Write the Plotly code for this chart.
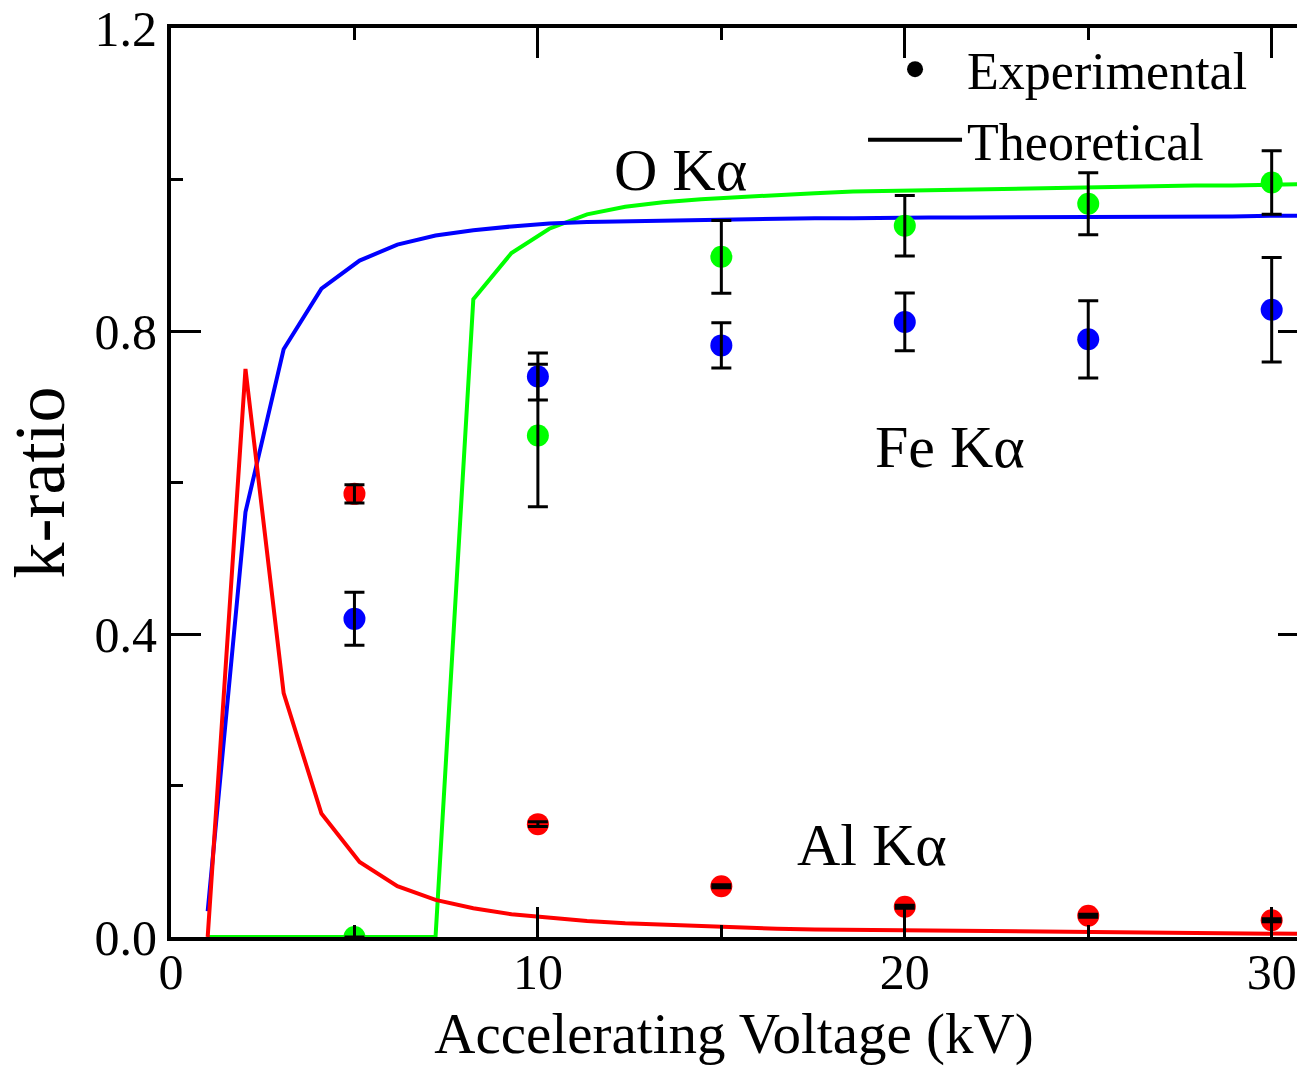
import plotly.graph_objects as go

# ---------------- data ----------------
kv_exp = [5, 10, 15, 20, 25, 30]

al_exp = [0.585, 0.149, 0.067, 0.040, 0.028, 0.022]
al_err = [0.012, 0.003, 0.002, 0.002, 0.002, 0.002]

fe_exp = [0.420, 0.740, 0.781, 0.812, 0.789, 0.828]
fe_err = [0.035, 0.031, 0.030, 0.038, 0.051, 0.069]

o_exp = [0.0, 0.662, 0.898, 0.939, 0.968, 0.996]
o_err = [0.0, 0.094, 0.048, 0.040, 0.041, 0.042]

kv_theory = [1.00, 2.03, 3.07, 4.10, 5.14, 6.17, 7.21, 8.24, 9.28, 10.31,
             11.34, 12.38, 13.41, 14.45, 15.48, 16.52, 17.55, 18.59, 19.62, 20.66,
             21.69, 22.72, 23.76, 24.79, 25.83, 26.86, 27.90, 28.93, 29.97, 31.00]

fe_theory = [0.034, 0.561, 0.776, 0.856, 0.893, 0.914, 0.926, 0.933, 0.938, 0.942,
             0.944, 0.945, 0.946, 0.947, 0.948, 0.948, 0.949, 0.949, 0.950, 0.950,
             0.950, 0.950, 0.951, 0.951, 0.951, 0.951, 0.951, 0.951, 0.952, 0.952]

al_theory = [0.0, 0.750, 0.322, 0.163, 0.099, 0.067, 0.049, 0.038, 0.030, 0.025,
             0.021, 0.018, 0.016, 0.014, 0.013, 0.011, 0.010, 0.0095, 0.009, 0.0085,
             0.008, 0.0075, 0.007, 0.0065, 0.006, 0.0055, 0.005, 0.005, 0.0045, 0.004]

o_theory = [0.0, 0.0, 0.0, 0.0, 0.0, 0.0, 0.0, 0.842, 0.903, 0.935,
            0.954, 0.964, 0.970, 0.974, 0.977, 0.980, 0.982, 0.984, 0.985, 0.986,
            0.987, 0.988, 0.989, 0.990, 0.990, 0.991, 0.992, 0.992, 0.993, 0.994]

x_ticks = [0, 10, 20, 30]
y_ticks = [0.0, 0.4, 0.8, 1.2]

labels = [("O Kα", 13.9, 1.012), ("Fe Kα", 21.23, 0.647), ("Al Kα", 19.1, 0.122)]

# ---------------- style ----------------
RED, BLUE, GREEN = "#ff0000", "#0000ff", "#00ff00"
FONT = "Liberation Serif"
LW = 4

fig = go.Figure()

# theoretical curves
for yv, c in [(o_theory, GREEN), (fe_theory, BLUE), (al_theory, RED)]:
    fig.add_trace(go.Scatter(x=kv_theory, y=yv, mode="lines",
                             line=dict(color=c, width=LW), showlegend=False,
                             hoverinfo="skip"))

# experimental markers
for yv, c in [(al_exp, RED), (fe_exp, BLUE), (o_exp, GREEN)]:
    fig.add_trace(go.Scatter(x=kv_exp, y=yv, mode="markers",
                             marker=dict(color=c, size=22), showlegend=False))

# error bars drawn on top of markers
for yv, ev in [(al_exp, al_err), (fe_exp, fe_err), (o_exp, o_err)]:
    fig.add_trace(go.Scatter(x=kv_exp, y=yv, mode="markers",
                             marker=dict(color="rgba(0,0,0,0)", size=1),
                             error_y=dict(type="data", array=ev, visible=True,
                                          color="black", thickness=3, width=10),
                             showlegend=False, hoverinfo="skip"))

# legend entries
fig.add_trace(go.Scatter(x=[None], y=[None], mode="markers", name="Experimental",
                         marker=dict(color="black", size=22)))
fig.add_trace(go.Scatter(x=[None], y=[None], mode="lines", name="Theoretical",
                         line=dict(color="black", width=LW)))

# dummy trace on right-side tick axis
fig.add_trace(go.Scatter(x=[None], y=[None], yaxis="y2", showlegend=False,
                         hoverinfo="skip"))

for txt, xx, yy in labels:
    fig.add_annotation(x=xx, y=yy, text=txt, showarrow=False,
                       font=dict(family=FONT, size=60, color="black"),
                       xanchor="center", yanchor="middle")

fig.update_layout(
    width=1297, height=1066,
    margin=dict(l=171, r=0, t=25, b=129),
    paper_bgcolor="white", plot_bgcolor="white",
    font=dict(family=FONT, color="black"),
    xaxis=dict(
        range=[0, 30.69], tickvals=x_ticks, ticktext=[str(v) for v in x_ticks],
        ticks="inside", ticklen=30, tickwidth=3, tickcolor="black",
        showline=True, linewidth=4, linecolor="black", mirror="ticks",
        showgrid=False, zeroline=False, ticklabeloverflow="allow",
        ticklabelstandoff=-12,
        minor=dict(ticks="inside", ticklen=12, tickwidth=3, tickcolor="black",
                   dtick=5, tick0=0, showgrid=False),
        tickfont=dict(family=FONT, size=50, color="black"),
        title=dict(text="Accelerating Voltage (kV)",
                   font=dict(family=FONT, size=57, color="black"), standoff=24),
    ),
    yaxis=dict(
        range=[0, 1.2], tickvals=y_ticks, ticktext=[f"{v:.1f}" for v in y_ticks],
        ticks="inside", ticklen=30, tickwidth=3, tickcolor="black",
        showline=True, linewidth=4, linecolor="black", mirror=False,
        showgrid=False, zeroline=False, ticklabeloverflow="allow",
        minor=dict(ticks="inside", ticklen=12, tickwidth=3, tickcolor="black",
                   dtick=0.2, tick0=0, showgrid=False),
        tickfont=dict(family=FONT, size=50, color="black"),
        title=dict(text="k-ratio", font=dict(family=FONT, size=72, color="black"),
                   standoff=8),
    ),
    yaxis2=dict(
        range=[0, 1.2], overlaying="y", side="right", tickvals=y_ticks,
        showticklabels=False, ticks="inside", ticklen=19, tickwidth=3,
        tickcolor="black", showline=False, showgrid=False, zeroline=False,
    ),
    legend=dict(x=0.6146, y=0.999, xanchor="left", yanchor="top",
                bgcolor="rgba(0,0,0,0)", borderwidth=0, itemwidth=94,
                font=dict(family=FONT, size=52, color="black"),
                tracegroupgap=0),
    showlegend=True,
)

fig.write_html("out.html")
